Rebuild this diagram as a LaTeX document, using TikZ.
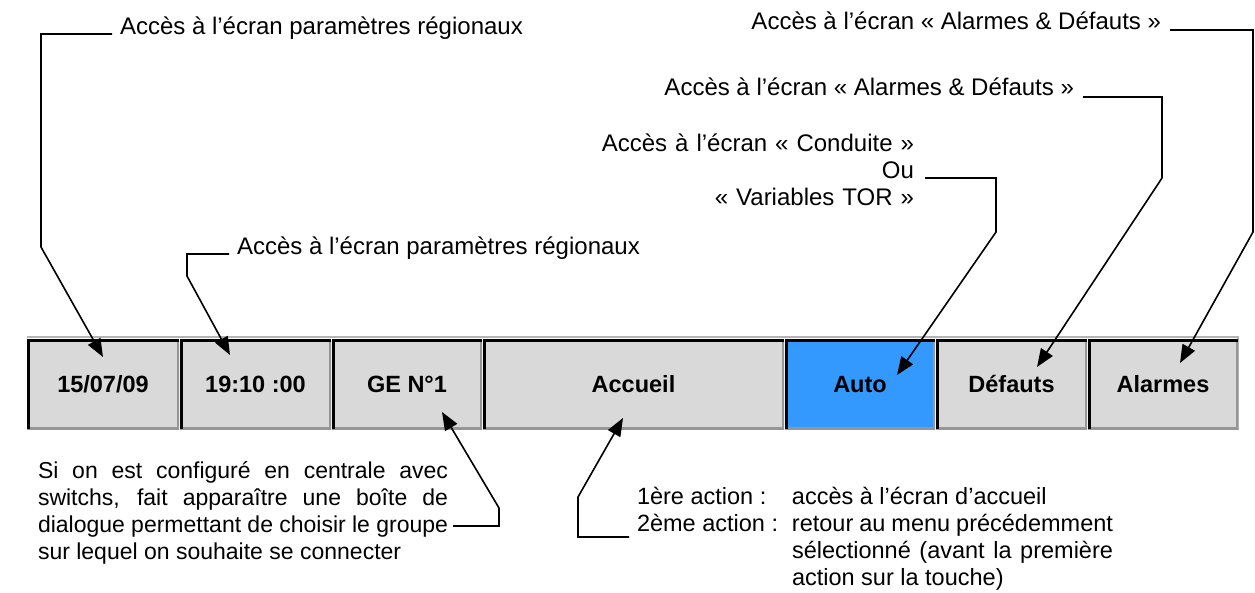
\documentclass[tikz,border=0pt]{standalone}
\usepackage{fontspec}
\setmainfont{Liberation Sans}
\usetikzlibrary{arrows.meta}
\definecolor{keyface}{HTML}{D9D9D9}
\definecolor{keyblue}{HTML}{3399FF}
\definecolor{keyshade}{HTML}{969696}
\definecolor{barframe}{HTML}{B4B4B4}
\tikzset{
  key/.style={minimum width=#1, minimum height=90pt, inner sep=0pt, outer sep=0pt,
    text height=18pt, text depth=2pt,
    fill=keyface, font=\bfseries\fontsize{23.5}{27}\selectfont,
    path picture={
      \draw[keyshade, line width=5pt]
        (path picture bounding box.south west) -- (path picture bounding box.south east)
        -- (path picture bounding box.north east);
      \draw[black, line width=5pt]
        (path picture bounding box.south west) -- (path picture bounding box.north west)
        -- (path picture bounding box.north east);
    }},
  note/.style={inner sep=0pt, outer sep=0pt, font=\fontsize{24}{27}\selectfont},
  callout/.style={draw=black, line width=1.6pt, line join=miter,
    -{Triangle[length=18pt,width=14pt]}},
}
\begin{document}
\begin{tikzpicture}[x=1pt,y=-1pt]
\useasboundingbox (0,0) rectangle (1255,592);

% key bar
\draw[barframe, line width=2pt] (27,337) -- (1238,337) -- (1238,430);
\node[key=152pt] (b1) at (103,384) {15/07/09};
\node[key=151pt] (b2) at (255.5,384) {19:10 :00};
\node[key=150pt] (b3) at (407,384) {GE N°1};
\node[key=301pt] (b4) at (633.5,384) {Accueil};
\node[key=150pt, fill=keyblue] (b5) at (860,384) {Auto};
\node[key=151pt] (b6) at (1011.5,384) {Défauts};
\node[key=150pt] (b7) at (1163,384) {Alarmes};

% labels above the bar
\node[note, anchor=base west] (l1) at (120,34) {Accès à l’écran paramètres régionaux};
\node[note, anchor=base west] (l2) at (237,254) {Accès à l’écran paramètres régionaux};
\node[note, anchor=base east, text width=340pt, align=right] (l3) at (914,151)
  {Accès à l’écran « Conduite »\\Ou\\« Variables TOR »};
\node[note, anchor=base east] (l4) at (1074,95) {Accès à l’écran « Alarmes \& Défauts »};
\node[note, anchor=base east] (l5) at (1161,29) {Accès à l’écran « Alarmes \& Défauts »};

% notes below the bar
\node[note, font=\fontsize{23}{27}\selectfont, anchor=base west, text width=410pt,
      align=justify] (l6) at (38,478)
  {\spaceskip=6.4pt plus 8pt minus 2.5pt
   Si on est configuré en centrale avec\linebreak
   switchs, fait apparaître une boîte de\linebreak
   dialogue permettant de choisir le groupe\linebreak
   sur lequel on souhaite se connecter};
\node[note, font=\fontsize{23.5}{27}\selectfont, anchor=base west] (l7) at (637,504)
  {\begin{tabular}[t]{@{}p{155pt}@{}p{321pt}@{}}
   1ère action : & accès à l’écran d’accueil\\
   2ème action : & retour au menu précédemment\linebreak
   sélectionné (avant la première\linebreak
   action sur la touche)
   \end{tabular}};

% callout ends and bends
\coordinate (p1) at (112,34);   \coordinate (k1) at (41,247);   \coordinate (t1) at (103,357);
\coordinate (p2) at (229,254);  \coordinate (k2) at (187,276);  \coordinate (t2) at (230,355);
\coordinate (p3) at (925,178);  \coordinate (k3) at (996,232);  \coordinate (t3) at (897,375);
\coordinate (p4) at (1083,97);  \coordinate (k4) at (1162,178); \coordinate (t4) at (1037,367);
\coordinate (p5) at (1170,30);  \coordinate (k5) at (1253,232); \coordinate (t5) at (1180,363);
\coordinate (p6) at (453,526);  \coordinate (k6) at (499,508);  \coordinate (t6) at (442,412);
\coordinate (p7) at (629,537);  \coordinate (k7) at (578,497);  \coordinate (t7) at (623,418);

\draw[callout] (p1) -| (k1) -- (t1);
\draw[callout] (p2) -| (k2) -- (t2);
\draw[callout] (p3) -| (k3) -- (t3);
\draw[callout] (p4) -| (k4) -- (t4);
\draw[callout] (p5) -| (k5) -- (t5);
\draw[callout] (p6) -| (k6) -- (t6);
\draw[callout] (p7) -| (k7) -- (t7);
\end{tikzpicture}
\end{document}
